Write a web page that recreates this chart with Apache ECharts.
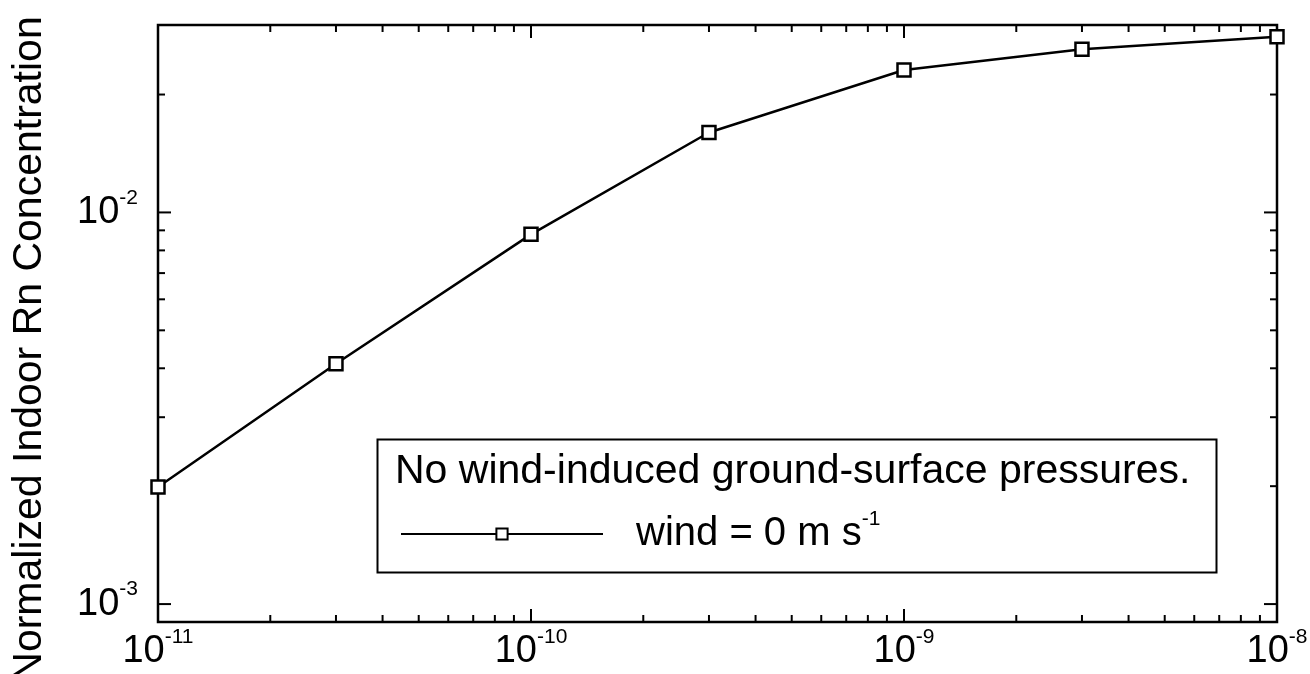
<!DOCTYPE html>
<html>
<head>
<meta charset="utf-8">
<script src="https://cdn.jsdelivr.net/npm/echarts@6/dist/echarts.min.js"></script>
<style>
  html, body { margin: 0; padding: 0; background: #fff; }
  #chart { width: 1310px; height: 674px; }
</style>
</head>
<body>
<div id="chart"></div>
<script>
// permeability (x) and normalized indoor Rn concentration (y)
var xValues = [1e-11, 3e-11, 1e-10, 3e-10, 1e-9, 3e-9, 1e-8];
var concValues = [0.00199, 0.00411, 0.00879, 0.0160, 0.0231, 0.0261, 0.0281];

// axis range and ticks
var X_MIN = 1e-11, X_MAX = 1e-8;
var Y_MIN = 0.0009, Y_MAX = 0.0301;
var xMajorTicks = [1e-10, 1e-9];
var xMinorTicks = [2e-11, 3e-11, 4e-11, 5e-11, 6e-11, 7e-11, 8e-11, 9e-11,
                   2e-10, 3e-10, 4e-10, 5e-10, 6e-10, 7e-10, 8e-10, 9e-10,
                   2e-9, 3e-9, 4e-9, 5e-9, 6e-9, 7e-9, 8e-9, 9e-9];
var yMajorTicks = [1e-3, 1e-2];
var yMinorTicks = [2e-3, 3e-3, 4e-3, 5e-3, 6e-3, 7e-3, 8e-3, 9e-3, 2e-2];

var FONT = '"Liberation Sans", Arial, Helvetica, sans-serif';
var MAJOR_LEN = 13, MINOR_LEN = 7;

var chart = echarts.init(document.getElementById('chart'));

function powLabel(v) {
  var l = Math.log10(v);
  var e = Math.round(l);
  if (Math.abs(l - e) > 1e-6) return '';
  return '{b|10}{s|' + e + '}';
}

var supRich = {
  b: { fontSize: 38, fontFamily: FONT, color: '#000', lineHeight: 50 },
  s: { fontSize: 21, fontFamily: FONT, color: '#000', verticalAlign: 'top', lineHeight: 20 }
};

function tickLine(p, dx, dy) {
  return {
    type: 'line',
    shape: { x1: p[0], y1: p[1], x2: p[0] + dx, y2: p[1] + dy },
    style: { stroke: '#000', lineWidth: 2 }
  };
}

function xTickItem(params, api) {
  var v = api.value(0), len = api.value(2);
  var b = api.coord([v, Y_MIN]);
  var t = api.coord([v, Y_MAX]);
  return { type: 'group', children: [tickLine(b, 0, -len), tickLine(t, 0, len)] };
}

function yTickItem(params, api) {
  var v = api.value(1), len = api.value(2);
  var l = api.coord([X_MIN, v]);
  var r = api.coord([X_MAX, v]);
  return { type: 'group', children: [tickLine(l, len, 0), tickLine(r, -len, 0)] };
}

var xTickData = xMajorTicks.map(function (v) { return [v, Y_MIN, MAJOR_LEN]; })
  .concat(xMinorTicks.map(function (v) { return [v, Y_MIN, MINOR_LEN]; }));
var yTickData = yMajorTicks.map(function (v) { return [X_MIN, v, MAJOR_LEN]; })
  .concat(yMinorTicks.map(function (v) { return [X_MIN, v, MINOR_LEN]; }));

chart.setOption({
  animation: false,
  textStyle: { fontFamily: FONT },
  grid: {
    left: 158, right: 33, top: 25, bottom: 52,
    outerBoundsMode: 'none', containLabel: false,
    show: true, borderColor: '#000', borderWidth: 2.5, backgroundColor: 'transparent'
  },
  xAxis: {
    type: 'log', logBase: 10, min: X_MIN, max: X_MAX,
    axisLine: { show: false },
    axisTick: { show: false },
    splitLine: { show: false },
    minorTick: { show: false },
    axisLabel: { margin: 5, formatter: powLabel, rich: supRich, showMinLabel: true, showMaxLabel: true }
  },
  yAxis: {
    type: 'log', logBase: 10, min: Y_MIN, max: Y_MAX,
    axisLine: { show: false },
    axisTick: { show: false },
    splitLine: { show: false },
    axisLabel: { margin: 20, formatter: powLabel, rich: supRich }
  },
  legend: {
    left: 395, top: 504,
    itemWidth: 202, itemHeight: 14,
    data: ['wind = 0 m s-1'],
    formatter: function () { return '{a|wind = 0 m s}{s|-1}'; },
    textStyle: {
      padding: [0, 0, 0, 28],
      rich: {
        a: { fontSize: 40, fontFamily: FONT, color: '#000', lineHeight: 50 },
        s: { fontSize: 21, fontFamily: FONT, color: '#000', verticalAlign: 'top', lineHeight: 20 }
      }
    }
  },
  graphic: [
    {
      type: 'text', x: 30, y: 349, rotation: Math.PI / 2,
      style: {
        text: 'Normalized Indoor Rn Concentration',
        font: '41px ' + FONT, fill: '#000', align: 'center', verticalAlign: 'middle'
      }
    },
    {
      type: 'rect', left: 375, top: 437, z: 10,
      shape: { width: 839, height: 133 },
      style: { fill: 'none', stroke: '#000', lineWidth: 2 }
    },
    {
      type: 'text', left: 395, top: 451, z: 10,
      style: { text: 'No wind-induced ground-surface pressures.', font: '41px ' + FONT, fill: '#000' }
    }
  ],
  series: [
    {
      name: 'wind = 0 m s-1',
      type: 'line',
      data: xValues.map(function (x, i) { return [x, concValues[i]]; }),
      symbol: 'rect', symbolSize: 13,
      lineStyle: { color: '#000', width: 2.5 },
      itemStyle: { color: '#fff', borderColor: '#000', borderWidth: 2.5 },
      z: 5
    },
    {
      type: 'custom', renderItem: xTickItem, data: xTickData,
      clip: false, silent: true, z: 3
    },
    {
      type: 'custom', renderItem: yTickItem, data: yTickData,
      clip: false, silent: true, z: 3
    }
  ]
});
</script>
</body>
</html>
